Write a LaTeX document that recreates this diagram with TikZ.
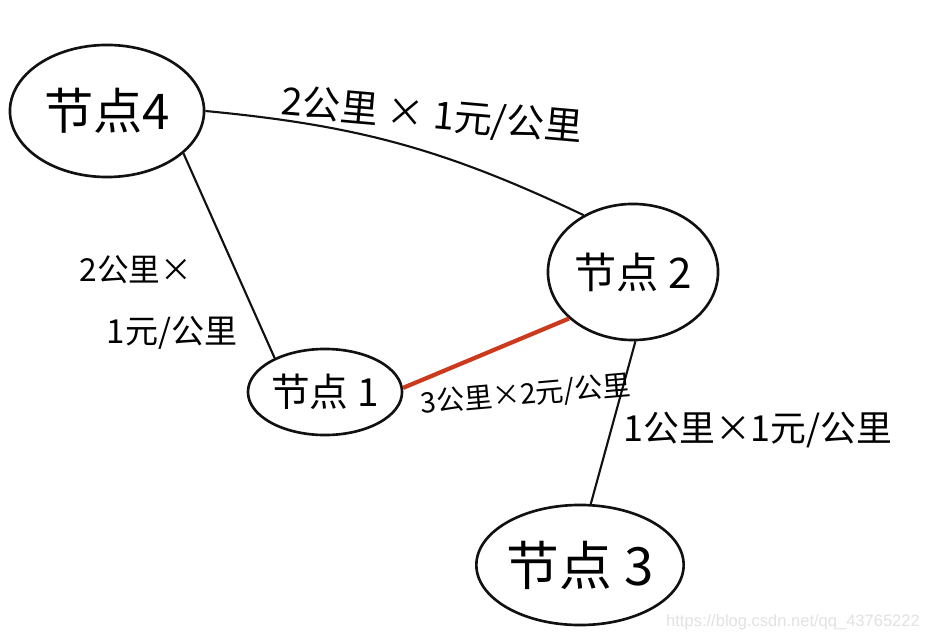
\documentclass[tikz,border=0pt]{standalone}
\usepackage{fontspec}
\setsansfont{Liberation Sans}
\newfontfamily\cjkfont{Noto Sans CJK SC}
\usetikzlibrary{shapes.geometric}

\begin{document}
\begin{tikzpicture}[x=0.01cm, y=-0.01cm,
    vertex/.style={ellipse, draw=borderColour, line width=0.75pt, inner sep=0pt},
    link/.style={draw=borderColour, line width=0.6pt},
    cost/.style={inner sep=0pt}]
    \definecolor{borderColour}{HTML}{111111}
    \definecolor{edgeRed}{HTML}{CC3A1E}
    \definecolor{markGrey}{HTML}{E2E2E2}

    \def\nodeFont#1{\cjkfont\fontsize{#1}{#1}\selectfont}

    % Frame
    \fill[white] (0,0) rectangle (925,643);
    \useasboundingbox (0,0) rectangle (925,643);

    % Draw nodes
    \node[vertex, minimum width=1.94cm, minimum height=1.32cm, font=\nodeFont{14}] (n4) at (107,111) {节点4};
    \node[vertex, minimum width=1.70cm, minimum height=1.36cm, font=\nodeFont{12}] (n2) at (633,272) {节点 2};
    \node[vertex, minimum width=1.54cm, minimum height=0.86cm, font=\nodeFont{11}] (n1) at (325,392) {节点 1};
    \node[vertex, minimum width=1.84cm, minimum height=1.20cm, font=\nodeFont{15}] (n3) at (580,565) {节点 3};

    % Draw edges
    \draw[link] (n4.0) to[bend left=10] (n2.131);
    \draw[link] (n4.-29) -- (n1.146);
    \draw[link, draw=edgeRed, line width=1.2pt] (n1.3) -- (n2.216);
    \draw[link] (n2.272) -- (n3.80);

    % Edge costs
    \node[cost, font=\nodeFont{10.8}, rotate=-5] (c42) at (432,116) {2公里 × 1元/公里};
    \node[cost, font=\nodeFont{9}] (c41a) at (136,270) {2公里×};
    \node[cost, font=\nodeFont{9.4}] (c41b) at (172,333) {1元/公里};
    \node[cost, font=\nodeFont{8}, rotate=5] (c12) at (526,395) {3公里×2元/公里};
    \node[cost, font=\nodeFont{10.2}] (c23) at (758,430) {1公里×1元/公里};

    % Watermark
    \node[inner sep=0pt, text=markGrey, font=\sffamily\fontsize{4.7}{5}\selectfont] (mark) at (793,622) {https://blog.csdn.net/qq\_43765222};

\end{tikzpicture}
\end{document}
